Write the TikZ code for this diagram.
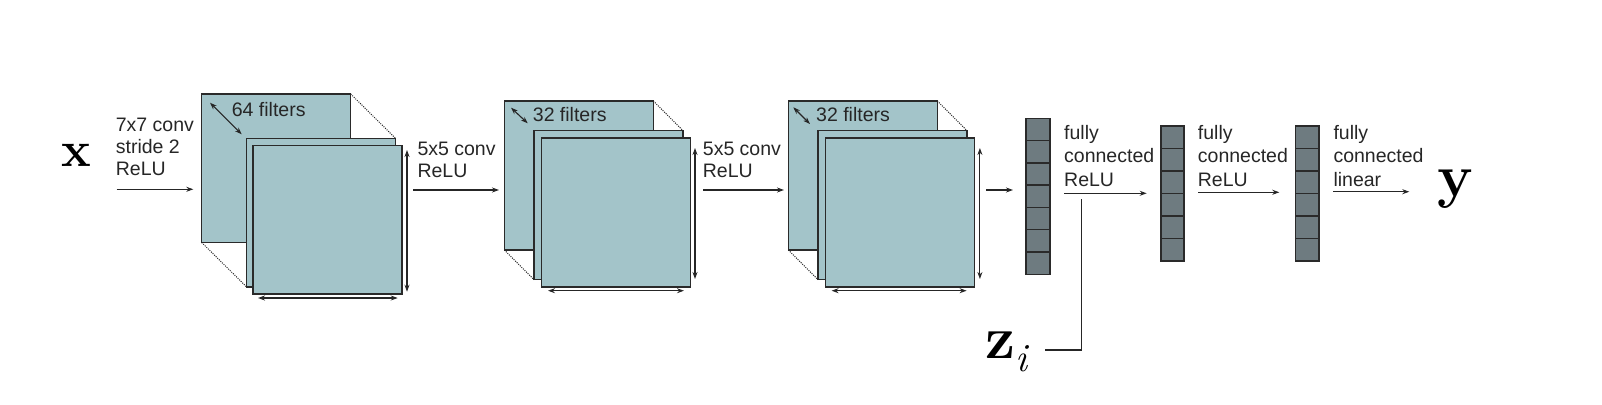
\documentclass[tikz,border=0pt]{standalone}
\usepackage{fontspec}
\setsansfont{Liberation Sans}
\usetikzlibrary{arrows.meta,calc}
\definecolor{sqfill}{HTML}{A3C4C9}
\definecolor{fcfill}{HTML}{6E7B80}
\definecolor{edge}{HTML}{2A2A2A}
\definecolor{ink}{HTML}{262626}
\begin{document}
\begin{tikzpicture}[x=1pt,y=-1pt,
  sq/.style={draw=edge, line width=1.4pt, fill=sqfill, minimum width=149pt, minimum height=148.5pt, anchor=north west, inner sep=0pt, outer sep=0pt},
  fc/.style={draw=edge, line width=1.4pt, fill=fcfill, anchor=north west, inner sep=0pt, outer sep=0pt},
  lbl/.style={font=\sffamily\fontsize{19.5}{22}\selectfont, text=ink, align=left, anchor=base west, inner sep=0pt},
  fclbl/.style={lbl, font=\sffamily\fontsize{19.5}{23.3}\selectfont},
  arr/.style={-{Stealth[length=7pt,width=5pt]}, line width=1.1pt, draw=ink},
  dim/.style={{Stealth[length=7pt,width=5pt]}-{Stealth[length=7pt,width=5pt]}, line width=1.1pt, draw=ink},
  dots/.style={dash pattern=on 1pt off 1.2pt, line width=1pt, draw=black!85},
  cell/.style={draw=edge, line width=1.4pt},
  big/.style={inner sep=0pt, anchor=base west, text=black}
]
\useasboundingbox (0,0) rectangle (1602,404);

% ---------- block 1
\node[sq] (b1a) at (201.7,94) {};
\node[sq] (b1b) at (246.7,138.5) {};
\node[sq] (b1c) at (253,145.5) {};
\draw[dots] (b1a.north east) -- (b1b.north east);
\draw[dots] (b1a.south west) -- (b1b.south west);
\draw[dim] ($(b1a.north west)+(8.3,8.7)$) -- ($(b1a.north west)+(40,40.3)$);
\node[lbl] (f1) at (231.7,116) {64 filters};
\draw[dim] ($(b1c.north east)+(5,4.5)$) -- ($(b1c.south east)+(5,-2.3)$);
\draw[dim] ($(b1c.south west)+(5,4)$) -- ($(b1c.south east)+(-4.3,4)$);

% ---------- block 2
\node[sq, minimum height=149pt] (b2a) at (504.3,101) {};
\node[sq, minimum height=149pt] (b2b) at (534,130.7) {};
\node[sq, minimum height=149pt] (b2c) at (541.3,138) {};
\draw[dots] (b2a.north east) -- (b2b.north east);
\draw[dots] (b2a.south west) -- (b2b.south west);
\draw[dim] ($(b2a.north west)+(6.7,6.7)$) -- ($(b2a.north west)+(23.4,22.3)$);
\node[lbl] (f2) at (532.7,121.7) {32 filters};
\draw[dim] ($(b2c.north east)+(4.7,10)$) -- ($(b2c.south east)+(4.7,-8)$);
\draw[dim] ($(b2c.south west)+(6.7,3.7)$) -- ($(b2c.south east)+(-6.3,3.7)$);

% ---------- block 3
\node[sq, minimum height=149pt] (b3a) at (788.3,101) {};
\node[sq, minimum height=149pt] (b3b) at (818,130.7) {};
\node[sq, minimum height=149pt] (b3c) at (825.6,138) {};
\draw[dots] (b3a.north east) -- (b3b.north east);
\draw[dots] (b3a.south west) -- (b3b.south west);
\draw[dim] ($(b3a.north west)+(5,6.3)$) -- ($(b3a.north west)+(21.7,23)$);
\node[lbl] (f3) at (816,121.7) {32 filters};
\draw[dim] ($(b3c.north east)+(5.3,10)$) -- ($(b3c.south east)+(5.3,-8)$);
\draw[dim] ($(b3c.south west)+(6,3.7)$) -- ($(b3c.south east)+(-8,3.7)$);

% ---------- fully connected columns
\node[fc, minimum width=24pt, minimum height=156pt] (fc1) at (1026,118.3) {};
\foreach \k in {1,...,6}
  \draw[cell] ($(fc1.north west)+(0,\k*22.29)$) -- ++(24,0);
\node[fc, minimum width=23pt, minimum height=135pt] (fc2) at (1161,126) {};
\foreach \k in {1,...,5}
  \draw[cell] ($(fc2.north west)+(0,\k*22.5)$) -- ++(23,0);
\node[fc, minimum width=23.3pt, minimum height=135pt] (fc3) at (1295.7,126) {};
\foreach \k in {1,...,5}
  \draw[cell] ($(fc3.north west)+(0,\k*22.5)$) -- ++(23.3,0);

% ---------- labels (anchor = baseline of the last line)
\node[lbl] (t1) at (115.7,175.7) {7x7 conv\\stride 2\\ReLU};
\node[lbl] (t2) at (417.3,177) {5x5 conv\\ReLU};
\node[lbl] (t3) at (702.7,177) {5x5 conv\\ReLU};
\node[fclbl] (t4) at (1064,186) {fully\\connected\\ReLU};
\node[fclbl] (t5) at (1197.7,186) {fully\\connected\\ReLU};
\node[fclbl] (t6) at (1333.3,186) {fully\\connected\\linear};

\node[big] (xlab) at (61.7,166.7) {\fontsize{50}{50}\selectfont\bfseries x};
\node[big] (ylab) at (1437,196.7) {\fontsize{60}{60}\selectfont\bfseries y};
\node[big] (zlab) at (985,358) {\fontsize{60}{60}\selectfont\bfseries z\raisebox{-13.7pt}{\fontsize{40}{40}\selectfont\mdseries\itshape i}};

% ---------- arrows
\coordinate (a1s) at (116.7,189.3);  \coordinate (a1e) at (193.3,189.3);
\coordinate (a2s) at (413,190);      \coordinate (a2e) at (499,190);
\coordinate (a3s) at (703,190);      \coordinate (a3e) at (784,190);
\coordinate (a4s) at (986,190);      \coordinate (a4e) at (1013,190);
\coordinate (a5s) at (1064,193.3);   \coordinate (a5e) at (1146.7,193.3);
\coordinate (a6s) at (1198,192.3);   \coordinate (a6e) at (1279.3,192.3);
\coordinate (a7s) at (1333,191.7);   \coordinate (a7e) at (1409.3,191.7);
\draw[arr] (a1s) -- (a1e);
\draw[arr] (a2s) -- (a2e);
\draw[arr] (a3s) -- (a3e);
\draw[arr] (a4s) -- (a4e);
\draw[arr] (a5s) -- (a5e);
\draw[arr] (a6s) -- (a6e);
\draw[arr] (a7s) -- (a7e);

% ---------- z_i input line
\coordinate (zt) at (1081.7,199.3);
\coordinate (zl) at (1045,350);
\draw[ink, line width=1.4pt] (zt) |- (zl);
\end{tikzpicture}
\end{document}
